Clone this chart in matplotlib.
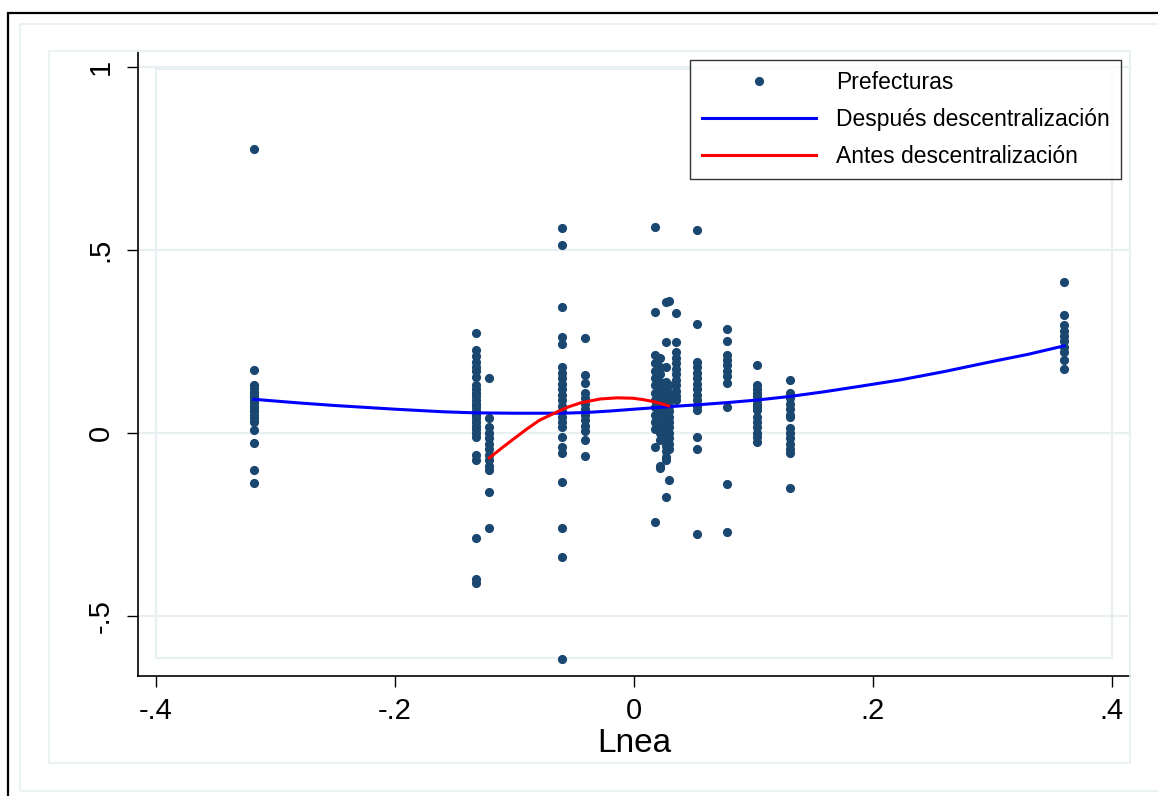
import matplotlib
matplotlib.use("Agg")
import matplotlib.pyplot as plt
from matplotlib.patches import Rectangle
from matplotlib.lines import Line2D
import numpy as np

plt.rcParams['font.family'] = ['Liberation Sans', 'DejaVu Sans']

# ---- data: scatter clusters (x value of each prefecture group, y values) ----
cluster_x = [-0.318, -0.132, -0.121, -0.060, -0.041, 0.018, 0.022, 0.027, 0.029,
             0.035, 0.053, 0.078, 0.103, 0.131, 0.360]
cluster_y = [
    [0.776, 0.172, 0.131, 0.122, 0.113, 0.105, 0.097, 0.090, 0.082, 0.075, 0.068,
     0.060, 0.050, 0.040, 0.030, 0.008, -0.027, -0.101, -0.137],
    [0.273, 0.227, 0.210, 0.195, 0.180, 0.168, 0.153, 0.131, 0.120, 0.110, 0.100,
     0.090, 0.080, 0.070, 0.060, 0.050, 0.040, 0.030, 0.020, 0.010, 0.000, -0.010,
     -0.060, -0.075, -0.287, -0.400, -0.410],
    [0.150, 0.041, 0.016, 0.000, -0.015, -0.030, -0.045, -0.060, -0.075, -0.090,
     -0.100, -0.160, -0.260],
    [0.560, 0.514, 0.344, 0.262, 0.243, 0.180, 0.165, 0.150, 0.135, 0.120, 0.105,
     0.090, 0.075, 0.060, 0.045, 0.030, 0.016, -0.010, -0.038, -0.055, -0.134,
     -0.260, -0.340, -0.617],
    [0.260, 0.158, 0.137, 0.109, 0.095, 0.080, 0.065, 0.050, 0.035, 0.020, 0.005,
     -0.020, -0.063],
    [0.563, 0.330, 0.213, 0.190, 0.170, 0.150, 0.130, 0.110, 0.090, 0.070, 0.050,
     0.030, 0.010, -0.038, -0.243],
    [0.205, 0.180, 0.160, 0.140, 0.120, 0.100, 0.080, 0.060, 0.040, 0.020, 0.000,
     -0.020, -0.090, -0.096],
    [0.358, 0.249, 0.180, 0.140, 0.120, 0.100, 0.085, 0.070, 0.055, 0.040, 0.025,
     0.010, -0.005, -0.020, -0.035, -0.050, -0.065, -0.074, -0.175],
    [0.360, 0.130, 0.110, 0.090, 0.075, 0.060, 0.045, 0.030, 0.015, 0.000, -0.015,
     -0.030, -0.045, -0.128],
    [0.328, 0.249, 0.220, 0.205, 0.190, 0.175, 0.160, 0.145, 0.130, 0.115, 0.100,
     0.090],
    [0.555, 0.298, 0.194, 0.180, 0.165, 0.150, 0.135, 0.120, 0.105, 0.090, 0.075,
     0.063, -0.011, -0.044, -0.276],
    [0.284, 0.251, 0.213, 0.200, 0.185, 0.170, 0.155, 0.137, 0.071, -0.139, -0.270],
    [0.186, 0.131, 0.120, 0.110, 0.100, 0.090, 0.080, 0.070, 0.063, 0.044, 0.030,
     0.015, 0.000, -0.012, -0.025],
    [0.145, 0.109, 0.095, 0.080, 0.065, 0.050, 0.044, 0.014, 0.000, -0.015, -0.030,
     -0.045, -0.055, -0.150],
    [0.413, 0.322, 0.295, 0.280, 0.265, 0.250, 0.235, 0.220, 0.200, 0.175],
]

# fitted curve after decentralisation
after_x = [-0.318, -0.28, -0.25, -0.20, -0.16, -0.133, -0.10, -0.06, -0.04, -0.02,
           0.0, 0.03, 0.053, 0.078, 0.103, 0.131, 0.16, 0.19, 0.223, 0.26, 0.298,
           0.33, 0.360]
after_y = [0.092, 0.082, 0.075, 0.065, 0.058, 0.055, 0.054, 0.054, 0.056, 0.060,
           0.065, 0.072, 0.077, 0.083, 0.090, 0.100, 0.113, 0.128, 0.145, 0.168,
           0.194, 0.215, 0.238]

# fitted curve before decentralisation
before_x = [-0.121, -0.111, -0.101, -0.090, -0.079, -0.064, -0.055, -0.045, -0.036,
            -0.028, -0.014, -0.001, 0.008, 0.016, 0.023, 0.029]
before_y = [-0.068, -0.042, -0.017, 0.010, 0.035, 0.058, 0.071, 0.082, 0.088,
            0.093, 0.096, 0.095, 0.091, 0.086, 0.080, 0.074]

xticks = [-0.4, -0.2, 0.0, 0.2, 0.4]
xtick_labels = ["-.4", "-.2", "0", ".2", ".4"]
yticks = [-0.5, 0.0, 0.5, 1.0]
ytick_labels = ["-.5", "0", ".5", "1"]

legend_labels = ["Prefecturas", "Después descentralización", "Antes descentralización"]
xlabel = "Lnea"

# ---- figure ----
W, H = 1158, 796
fig = plt.figure(figsize=(W / 100, H / 100), dpi=100)
fig.patch.set_facecolor("white")

light = "#e8f0f2"

def px_rect(x0, y0, x1, y1, color, lw):
    r = Rectangle((x0 / W, 1 - y1 / H), (x1 - x0) / W, (y1 - y0) / H,
                  transform=fig.transFigure, fill=False, edgecolor=color,
                  linewidth=lw, clip_on=False, zorder=0)
    fig.patches.append(r)

px_rect(8, 13, 1200, 830, "black", 1.6)
px_rect(20, 24, 1200, 791, light, 1.2)
px_rect(49, 51, 1130, 763, light, 1.2)

ax = fig.add_axes([138 / W, 1 - 676 / H, (1130 - 138) / W, (676 - 51) / H])
ax.set_facecolor("white")

ax.set_xlim(-0.4151, 0.4152)
ax.set_ylim(-0.664, 1.0437)

# grid lines and inner plot-region outline
for yv in yticks:
    ax.axhline(yv, color=light, lw=1.6, zorder=0)
ax.add_patch(Rectangle((-0.4, -0.615), 0.8, 0.615 + 0.9945, fill=False,
                       edgecolor=light, lw=1.6, zorder=0))

xs = np.concatenate([[cx] * len(cy) for cx, cy in zip(cluster_x, cluster_y)])
ys = np.concatenate([np.array(cy) for cy in cluster_y])
ax.plot(xs, ys, 'o', color="#1a476f", ms=6.6, mew=0, zorder=3)

ax.plot(after_x, after_y, color="#0000ff", lw=2.2, zorder=4)
ax.plot(before_x, before_y, color="#ff0000", lw=2.2, zorder=5)

for side in ["top", "right"]:
    ax.spines[side].set_color(light)
    ax.spines[side].set_linewidth(1.2)
for side in ["left", "bottom"]:
    ax.spines[side].set_color("black")
    ax.spines[side].set_linewidth(1.2)

ax.set_xticks(xticks)
ax.set_xticklabels(xtick_labels, fontsize=21)
ax.set_yticks(yticks)
ax.set_yticklabels(ytick_labels, fontsize=21, rotation=90, va="center")
ax.tick_params(axis="x", direction="out", length=8, width=1.0, pad=7)
ax.tick_params(axis="y", direction="out", length=8, width=1.0, pad=9)
ax.set_xlabel(xlabel, fontsize=24, labelpad=2)

handles = [
    Line2D([], [], ls="none", marker="o", color="#1a476f", ms=6.6, mew=0),
    Line2D([], [], color="#0000ff", lw=2.2),
    Line2D([], [], color="#ff0000", lw=2.2),
]
leg = ax.legend(handles, legend_labels, loc="upper right",
                bbox_to_anchor=(0.991, 0.9856), borderaxespad=0,
                fontsize=16.5, frameon=True, fancybox=False,
                handlelength=5.0, handletextpad=0.85, labelspacing=0.6,
                borderpad=0.5)
leg.get_frame().set_edgecolor("black")
leg.get_frame().set_linewidth(1.0)

fig.savefig("out.png", dpi=100)
